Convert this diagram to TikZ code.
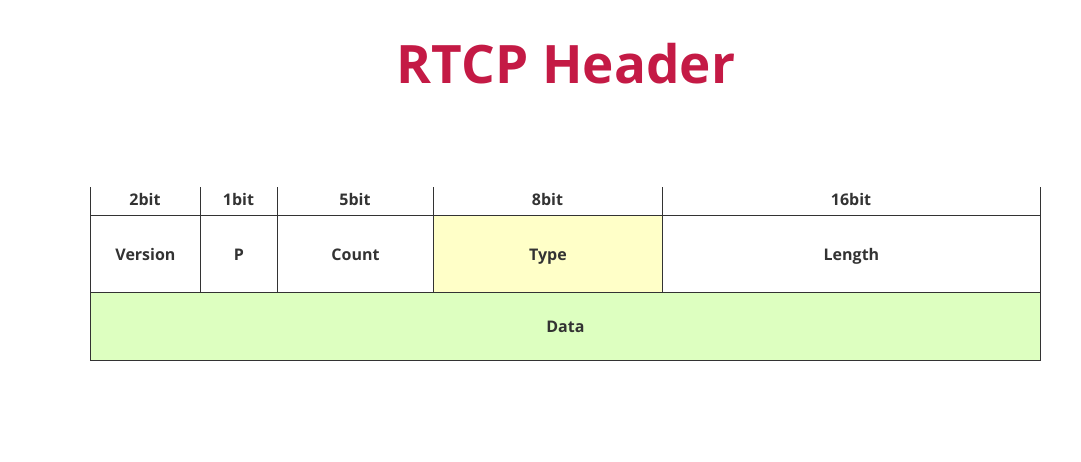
\documentclass[tikz,border=0pt]{standalone}
\usepackage{fontspec}
\setmainfont{Open Sans}
\begin{document}
\begin{tikzpicture}[x=1pt,y=-1pt,
  rule/.style={draw=black!80, line width=0.9pt},
  cell/.style={rule, rectangle, inner sep=0pt, anchor=north west, text=black!80,
    text height=14.5pt, text depth=1.5pt, font=\bfseries\fontsize{16}{18}\selectfont},
  bits/.style={inner sep=0pt, text=black!80, text height=13pt, text depth=3pt,
    font=\bfseries\fontsize{16}{18}\selectfont},
  title/.style={inner sep=0pt, text=titlered, font=\bfseries\fontsize{53}{60}\selectfont}]
\definecolor{titlered}{HTML}{C41A45}
\definecolor{typefill}{HTML}{FFFFC8}
\definecolor{datafill}{HTML}{DDFFC0}
\fill[white] (0,0) rectangle (1081,461);
\useasboundingbox (0,0) rectangle (1081,461);

\node[title] (head) at (566,64) {RTCP Header};

% bit-width labels
\node[bits] (b1) at (145,200) {2bit};
\node[bits] (b2) at (238.5,200) {1bit};
\node[bits] (b3) at (355,200) {5bit};
\node[bits] (b4) at (547.5,200) {8bit};
\node[bits] (b5) at (851,200) {16bit};

% header fields
\node[cell, fill=white, minimum width=110pt, minimum height=77pt] (ver) at (90,215) {Version};
\node[cell, fill=white, minimum width=77pt, minimum height=77pt] (pad) at (200,215) {P};
\node[cell, fill=white, minimum width=156pt, minimum height=77pt] (cnt) at (277,215) {Count};
\node[cell, fill=typefill, minimum width=229pt, minimum height=77pt] (typ) at (433,215) {Type};
\node[cell, fill=white, minimum width=378pt, minimum height=77pt] (len) at (662,215) {Length};

% payload
\node[cell, fill=datafill, minimum width=950pt, minimum height=68pt] (dat) at (90,292) {Data};

% column separators above the fields
\foreach \c in {ver,pad,cnt,typ,len}{
  \draw[rule] (\c.north west) -- ++(0,-28);
}
\draw[rule] (len.north east) -- ++(0,-28);
\end{tikzpicture}
\end{document}
